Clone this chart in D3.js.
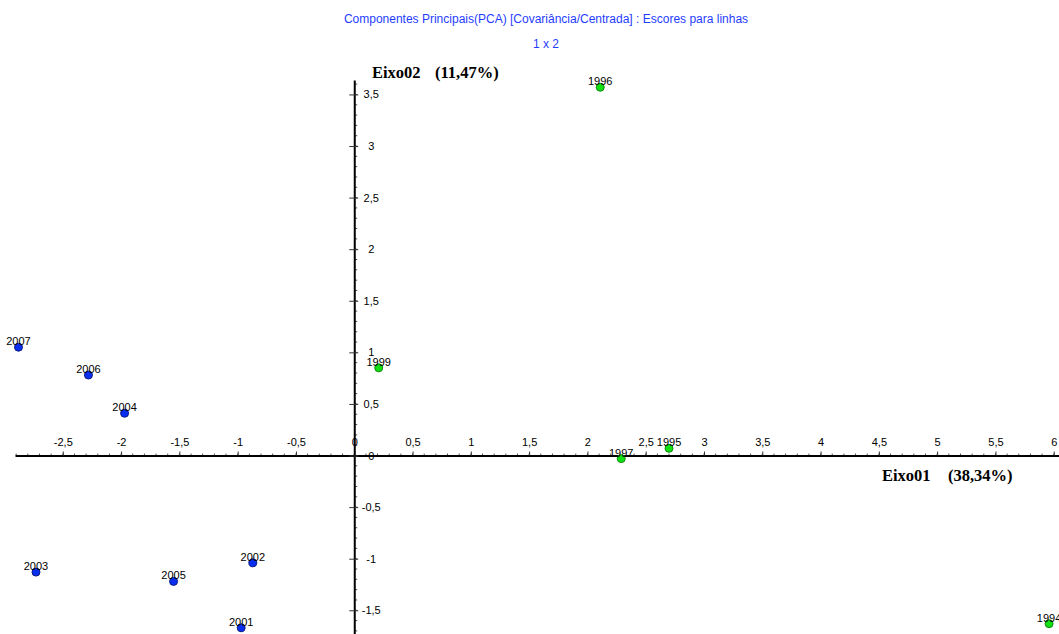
<!DOCTYPE html>
<html>
<head>
<meta charset="utf-8">
<script src="https://cdn.jsdelivr.net/npm/d3@7"></script>
<style>
  body { margin: 0; background: #fff; }
  svg { display: block; }
  .tick text { font-family: "Liberation Sans", Arial, sans-serif; font-size: 11px; fill: #000; }
</style>
</head>
<body>
<svg id="chart"></svg>
<script>
// PCA row scores, axis 1 x axis 2
const years = ['2007', '2006', '2004', '2003', '2005', '2002', '2001', '1999', '1996', '1997', '1995', '1994'];
const eixo01 = [-2.88, -2.28, -1.97, -2.73, -1.55, -0.87, -0.97, 0.21, 2.11, 2.29, 2.70, 5.96];
const eixo02 = [1.05, 0.78, 0.41, -1.13, -1.22, -1.04, -1.67, 0.85, 3.57, -0.03, 0.07, -1.63];
const groups = ['b', 'b', 'b', 'b', 'b', 'b', 'b', 'g', 'g', 'g', 'g', 'g'];

const xTicks = [-2.5, -2, -1.5, -1, -0.5, 0, 0.5, 1, 1.5, 2, 2.5, 3, 3.5, 4, 4.5, 5, 5.5, 6];
const yTicks = [-1.5, -1, -0.5, 0, 0.5, 1, 1.5, 2, 2.5, 3, 3.5];

const W = 1059, H = 634;
const svg = d3.select('#chart').attr('width', W).attr('height', H);

const x = d3.scaleLinear().domain([-2.91, 6.045]).range([15, 1059]);
const y = d3.scaleLinear().domain([3.64, -1.73]).range([80, 634]);
const fmt = d => String(d).replace('.', ',');

// title
const sans = '"Liberation Sans", Arial, sans-serif';
svg.append('text')
  .attr('x', 546).attr('y', 23)
  .attr('text-anchor', 'middle')
  .style('font-family', sans)
  .style('font-size', '12px')
  .style('fill', '#1f3dff')
  .text('Componentes Principais(PCA) [Covariância/Centrada] : Escores para linhas');
svg.append('text')
  .attr('x', 546).attr('y', 48)
  .attr('text-anchor', 'middle')
  .style('font-family', sans)
  .style('font-size', '12px')
  .style('fill', '#1f3dff')
  .text('1 x 2');

// minor ticks every 0.1
const minorX = d3.range(-29, 61).map(i => i / 10);
const minorY = d3.range(-17, 37).map(i => i / 10);

svg.append('g').selectAll('line')
  .data(minorX)
  .enter().append('line')
  .attr('x1', d => x(d)).attr('x2', d => x(d))
  .attr('y1', y(0) - 2).attr('y2', y(0))
  .attr('stroke', '#555').attr('stroke-width', 1);

svg.append('g').selectAll('line')
  .data(minorY)
  .enter().append('line')
  .attr('x1', x(0)).attr('x2', x(0) + 3)
  .attr('y1', d => y(d)).attr('y2', d => y(d))
  .attr('stroke', '#555').attr('stroke-width', 1);

// x axis
const xAxis = svg.append('g')
  .attr('transform', `translate(0,${y(0)})`)
  .call(d3.axisTop(x).tickValues(xTicks).tickFormat(fmt).tickSizeInner(4).tickSizeOuter(0).tickPadding(6));
xAxis.select('.domain').attr('stroke', '#000').attr('stroke-width', 2);
xAxis.selectAll('.tick line').attr('stroke', '#333');

// y axis
const yAxis = svg.append('g')
  .attr('transform', `translate(${x(0)},0)`)
  .call(d3.axisRight(y).tickValues(yTicks).tickFormat(fmt).tickSizeInner(4).tickSizeOuter(0).tickPadding(4));
yAxis.select('.domain').attr('stroke', '#000').attr('stroke-width', 2);
yAxis.selectAll('.tick line').attr('x1', -5).attr('stroke', '#333');
yAxis.selectAll('.tick text').attr('text-anchor', 'middle').attr('x', 17);

// axis titles
const serif = '"Liberation Serif", "Times New Roman", serif';
function axisTitle(px, py, txt) {
  svg.append('text')
    .attr('x', px).attr('y', py)
    .style('font-family', serif)
    .style('font-weight', 'bold')
    .style('font-size', '16.5px')
    .style('fill', '#000')
    .text(txt);
}
axisTitle(372, 78, 'Eixo02');
axisTitle(435, 78, '(11,47%)');
axisTitle(882, 481, 'Eixo01');
axisTitle(948, 481, '(38,34%)');

// points
const rows = years.map((yr, i) => ({ year: yr, a: eixo01[i], b: eixo02[i], g: groups[i] }));

svg.append('g').selectAll('circle')
  .data(rows)
  .enter().append('circle')
  .attr('cx', d => x(d.a))
  .attr('cy', d => y(d.b))
  .attr('r', 4)
  .attr('fill', d => d.g === 'b' ? '#0a2ef0' : '#12e012')
  .attr('stroke', d => d.g === 'b' ? '#0a1a80' : '#0a8a0a')
  .attr('stroke-width', 1);

svg.append('g').selectAll('text')
  .data(rows)
  .enter().append('text')
  .attr('x', d => x(d.a))
  .attr('y', d => y(d.b) - 2)
  .attr('text-anchor', 'middle')
  .style('font-family', sans)
  .style('font-size', '11px')
  .style('fill', '#000')
  .text(d => d.year);
</script>
</body>
</html>
